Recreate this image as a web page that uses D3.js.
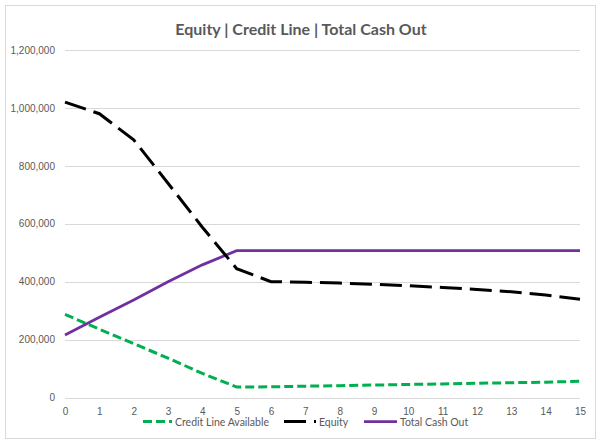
<!DOCTYPE html>
<html>
<head>
<meta charset="utf-8">
<script src="https://cdn.jsdelivr.net/npm/d3@7"></script>
<style>
	body{margin:0;background:#fff;}
	svg{display:block;font-family:Lato, "Open Sans", sans-serif;}
	.grid line{stroke:#d9d9d9;stroke-width:1;}
	.axis text{fill:#595959;font-size:10px;}
	.axis path, .axis line{display:none;}
	.legend text{fill:#595959;font-size:10.5px;}
</style>
</head>
<body>
<svg class="mainChart" width="600" height="444"></svg>
<script>
var years = [0, 1, 2, 3, 4, 5, 6, 7, 8, 9, 10, 11, 12, 13, 14, 15];
var creditLine = [287000, 236000, 186000, 136000, 83000, 36000, 37000, 39000, 41000, 43000, 45000, 47000, 49000, 51000, 53000, 56000];
var equity = [1020000, 980000, 890000, 740000, 588000, 445000, 400000, 398000, 395000, 391000, 386000, 380000, 373000, 365000, 354000, 339000];
var totalCashOut = [216000, 277000, 337000, 400000, 458000, 507000, 507000, 507000, 507000, 507000, 507000, 507000, 507000, 507000, 507000, 507000];
var yTicks = [0, 200000, 400000, 600000, 800000, 1000000, 1200000];
var seriesNames = ["Credit Line Available", "Equity", "Total Cash Out"];

var svg = d3.select(".mainChart");

// 바깥 테두리
svg.append("rect")
	.attr("x", 5.5)
	.attr("y", 5.5)
	.attr("width", 590)
	.attr("height", 433)
	.attr("fill", "#fff")
	.attr("stroke", "#d9d9d9");

svg.append("text")
	.attr("x", 301)
	.attr("y", 34.5)
	.attr("text-anchor", "middle")
	.attr("fill", "#595959")
	.attr("font-size", "16px")
	.attr("font-weight", "bold")
	.text("Equity | Credit Line | Total Cash Out");

var scaleX = d3.scaleLinear()
			   .domain([0, 15])
			   .range([65, 580]);

var scaleY = d3.scaleLinear()
			   .domain([0, 1200000])
			   .range([397.5, 50]);

svg.append("g")
	.attr("class", "grid")
	.selectAll("line")
	.data(yTicks)
	.enter()
	.append("line")
	.attr("x1", 65)
	.attr("x2", 580)
	.attr("y1", function(d){ return Math.round(scaleY(d)) + 0.5; })
	.attr("y2", function(d){ return Math.round(scaleY(d)) + 0.5; });

svg.append("g")
	.attr("class", "axis")
	.attr("transform", "translate(65, 0)")
	.call(d3.axisLeft(scaleY).tickValues(yTicks).tickSize(0).tickPadding(10).tickFormat(d3.format(",")));

svg.append("g")
	.attr("class", "axis")
	.attr("transform", "translate(0, 397.5)")
	.call(d3.axisBottom(scaleX).tickValues(years).tickSize(0).tickPadding(10).tickFormat(d3.format("d")));

var line = d3.line()
			.x(function(d, i){ return scaleX(years[i]); })
			.y(function(d){ return scaleY(d); });

var styles = [
	{data: creditLine, color: "#00b050", width: 3, dash: "9,4"},
	{data: equity, color: "#000000", width: 3, dash: "22,8"},
	{data: totalCashOut, color: "#7030a0", width: 2.75, dash: null}
];

// 그리는 순서: 초록, 보라, 검정
[0, 2, 1].forEach(function(k){
	var s = styles[k];
	svg.append("path")
		.attr("d", line(s.data))
		.attr("fill", "none")
		.attr("stroke", s.color)
		.attr("stroke-width", s.width)
		.attr("stroke-dasharray", s.dash);
});

var legendX = [143, 284, 364];
var legendLen = [29, 32, 33];
var legend = svg.append("g").attr("class", "legend");

seriesNames.forEach(function(name, i){
	var s = styles[i];
	legend.append("line")
		.attr("x1", legendX[i])
		.attr("x2", legendX[i] + legendLen[i])
		.attr("y1", 421.5)
		.attr("y2", 421.5)
		.attr("stroke", s.color)
		.attr("stroke-width", s.width)
		.attr("stroke-dasharray", s.dash);
	legend.append("text")
		.attr("x", legendX[i] + legendLen[i] + 3)
		.attr("y", 425.5)
		.text(name);
});
</script>
</body>
</html>
